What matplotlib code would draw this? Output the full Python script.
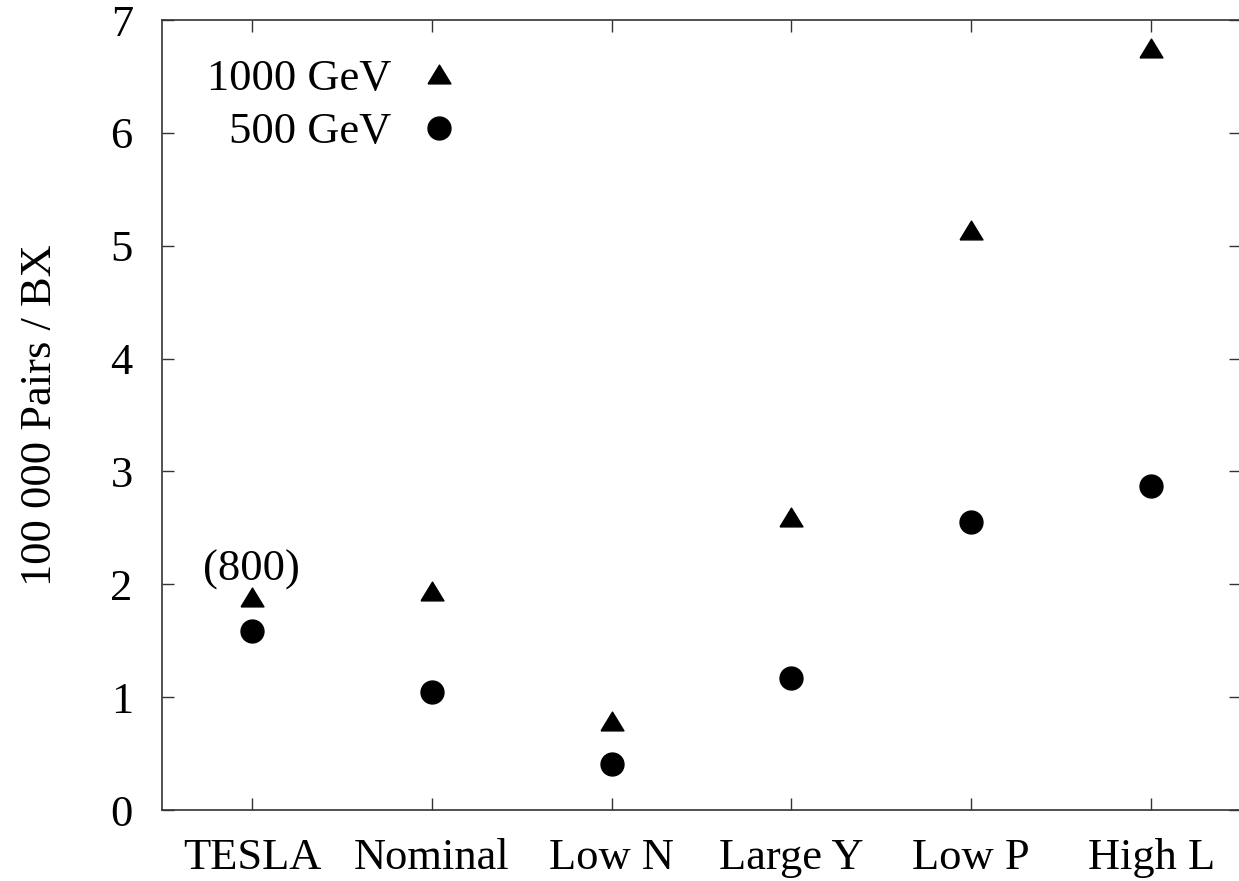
import matplotlib
matplotlib.use("Agg")
import matplotlib.pyplot as plt
import numpy as np

# Beam parameter sets and pair counts (units of 100 000 pairs per bunch crossing)
categories = ["TESLA", "Nominal", "Low N", "Large Y", "Low P", "High L"]
pairs_1000 = [1.89, 1.94, 0.79, 2.60, 5.14, 6.75]
pairs_500 = [1.59, 1.05, 0.41, 1.17, 2.55, 2.87]
series_labels = ["1000 GeV", "500 GeV"]
y_ticks = [0, 1, 2, 3, 4, 5, 6, 7]
tesla_note = "(800)"

plt.rcParams["font.family"] = ["Liberation Serif", "DejaVu Serif"]
plt.rcParams["mathtext.fontset"] = "stix"

W, H = 1239, 881
fig = plt.figure(figsize=(W / 100, H / 100), dpi=100)
left_px, right_px, top_px, bottom_px = 162, 1241, 20, 810
ax = fig.add_axes([left_px / W, (H - bottom_px) / H,
                   (right_px - left_px) / W, (bottom_px - top_px) / H])

x = np.arange(len(categories))

# Flattened upward triangle marker
tri = [(-1, -0.82), (1, -0.82), (0, 0.82), (-1, -0.82)]

ax.plot(x, pairs_1000, linestyle="none", marker=tri, markersize=16.5,
        color="black", label=series_labels[0])
ax.plot(x, pairs_500, linestyle="none", marker="o", markersize=16.5,
        color="black", label=series_labels[1])

ax.annotate(tesla_note, xy=(x[0], pairs_1000[0]), xytext=(0, 12),
            textcoords="offset points", ha="center", va="baseline",
            fontsize=32)

ax.set_xlim(-0.5, len(categories) - 0.5)
ax.set_ylim(0, 7)
ax.set_xticks(x)
ax.set_xticklabels(categories)
ax.set_yticks(y_ticks)
ax.set_yticklabels([str(t) for t in y_ticks])

spine_color = "#333333"
for s in ax.spines.values():
    s.set_color(spine_color)
    s.set_linewidth(1.2)

ax.tick_params(axis="both", which="both", direction="in", length=8.6,
               width=1.0, color=spine_color, labelsize=32,
               top=True, right=True)
ax.tick_params(axis="y", pad=21)
ax.tick_params(axis="x", pad=20)

ax.set_ylabel("100 000 Pairs / BX", fontsize=32, labelpad=36)

leg = ax.legend(loc="upper left", bbox_to_anchor=(0.0417, 0.9513),
                frameon=False, markerfirst=False, fontsize=32,
                borderpad=0, borderaxespad=0, handlelength=1.0,
                handletextpad=0.58, labelspacing=0.31, numpoints=1)

fig.savefig("out.png", dpi=100)
